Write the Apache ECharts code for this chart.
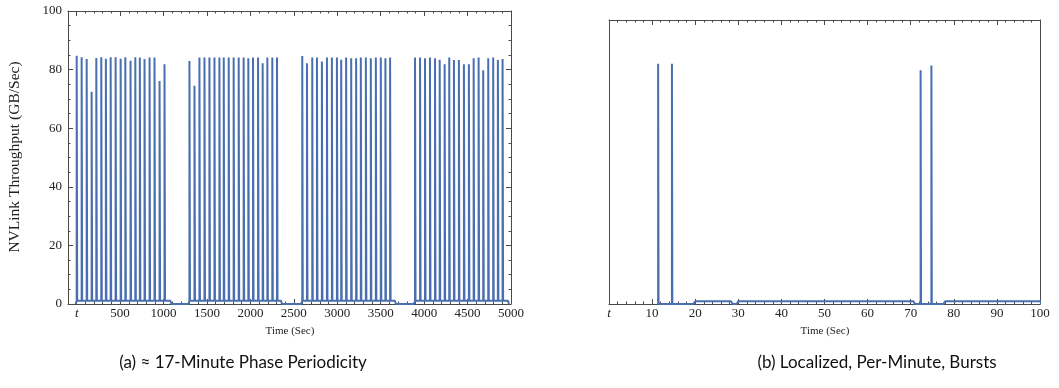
<!DOCTYPE html>
<html>
<head>
<meta charset="utf-8">
<script src="https://cdn.jsdelivr.net/npm/echarts@6/dist/echarts.min.js"></script>
<style>
  html, body { margin: 0; padding: 0; background: #fff; }
  #chart { width: 1059px; height: 388px; }
</style>
</head>
<body>
<div id="chart"></div>
<script>
// ---------- Data: panel (a) ----------
const spikeTimesA = [
  0, 57, 115, 172, 226, 283, 336, 391, 448, 506, 560, 620, 675, 727, 781, 839, 896, 954, 1011,
  1298, 1356, 1413, 1471, 1528, 1586, 1643, 1693, 1750, 1807, 1865, 1922, 1976, 2030, 2088, 2141, 2195, 2252, 2306,
  2597, 2651, 2712, 2766, 2823, 2881, 2938, 2996, 3045, 3102, 3160, 3217, 3271, 3329, 3386, 3444, 3501, 3554, 3608,
  3895, 3953, 4010, 4067, 4125, 4179, 4236, 4289, 4343, 4400, 4458, 4515, 4570, 4627, 4680, 4738, 4795, 4849, 4903
];
const spikeHeightsA = [
  84.7, 84.2, 83.6, 72.4, 84.0, 84.2, 83.7, 84.2, 84.2, 83.7, 84.2, 83.0, 84.2, 84.1, 83.6, 84.1, 84.1, 76.1, 81.8,
  82.9, 74.5, 84.1, 84.1, 84.1, 84.1, 84.1, 84.1, 84.1, 84.1, 84.1, 84.1, 83.9, 84.1, 84.1, 82.2, 84.1, 84.1, 84.1,
  84.6, 82.2, 84.1, 84.1, 82.8, 84.1, 84.1, 84.1, 83.4, 84.1, 83.9, 83.9, 84.1, 84.1, 83.9, 84.1, 84.1, 83.9, 84.1,
  84.1, 84.1, 83.9, 84.1, 83.9, 83.4, 81.8, 84.1, 83.3, 83.3, 81.8, 81.8, 83.9, 84.1, 79.8, 83.9, 84.1, 83.3, 83.6
];
const phaseStartA = [0, 1298, 2597, 3895];
const phaseEndA   = [1078, 2352, 3663, 4965];
const idleLevelA  = 1.1;
const blipTimesA  = [1180, 2489, 3740, 3797];
const blipValuesA = [0.6, 0.5, 0.5, 0.5];
const xMajorA = [0, 500, 1000, 1500, 2000, 2500, 3000, 3500, 4000, 4500, 5000];
const xMinorA = [100, 200, 300, 400, 600, 700, 800, 900, 1100, 1200, 1300, 1400, 1600, 1700, 1800, 1900,
  2100, 2200, 2300, 2400, 2600, 2700, 2800, 2900, 3100, 3200, 3300, 3400, 3600, 3700, 3800, 3900,
  4100, 4200, 4300, 4400, 4600, 4700, 4800, 4900];

// ---------- Data: panel (b) ----------
const spikeTimesB   = [11.4, 14.6, 72.3, 74.8];
const spikeHeightsB = [84.6, 84.6, 82.3, 84.0];
const phaseStartB   = [20, 30, 78];
const phaseEndB     = [28.3, 70.6, 100];
const idleLevelB    = 1.0;
const blipTimesB    = [76.2];
const blipValuesB   = [0.4];

// ---------- Build line data ----------
function buildLine(starts, ends, level, sT, sH, spikeW, tailW, bT, bV, blipW) {
  const pts = [];
  for (let g = 0; g < starts.length; g++) {
    pts.push([starts[g] - tailW, 0]);
    pts.push([starts[g], level]);
    pts.push([ends[g], level]);
    pts.push([ends[g] + tailW, 0]);
  }
  for (let i = 0; i < sT.length; i++) {
    const t = sT[i];
    const inside = starts.some((s, g) => t >= s && t <= ends[g]);
    const b = inside ? level : 0;
    pts.push([t - 0.0001, b], [t, sH[i]], [t + spikeW, sH[i]], [t + spikeW + 0.0001, b]);
  }
  for (let i = 0; i < bT.length; i++) {
    pts.push([bT[i] - blipW, 0], [bT[i], bV[i]], [bT[i] + blipW, 0]);
  }
  pts.sort((a, b) => a[0] - b[0]);
  return pts;
}
const lineA = buildLine(phaseStartA, phaseEndA, idleLevelA, spikeTimesA, spikeHeightsA, 6, 12, blipTimesA, blipValuesA, 4);
const lineB = buildLine(phaseStartB, phaseEndB, idleLevelB, spikeTimesB, spikeHeightsB, 0.1, 0.4, blipTimesB, blipValuesB, 0.15);

// ---------- Styles ----------
const FRAME = '#4a4a4a';
const BLUE = '#4a6fb0';
const SERIF = '"Liberation Serif", "DejaVu Serif", serif';
const labelFmt = v => (v === 0 ? '{i|t}' : String(v));
const rich = { i: { fontStyle: 'italic', fontFamily: SERIF, fontSize: 13, color: '#222' } };

function xAx(grid, min, max, pos, ticks, len, labels, line) {
  return {
    type: 'value', gridIndex: grid, min: min, max: max, position: pos,
    axisLine: { show: line, onZero: false, lineStyle: { color: FRAME, width: 1 } },
    axisTick: { show: true, inside: true, length: len, customValues: ticks, lineStyle: { color: FRAME, width: 1 } },
    axisLabel: labels ? { show: true, customValues: ticks, formatter: labelFmt, rich: rich,
      fontFamily: SERIF, fontSize: 13, color: '#222', margin: 3 } : { show: false },
    splitLine: { show: false }
  };
}

const chart = echarts.init(document.getElementById('chart'), null, { renderer: 'canvas' });
chart.setOption({
  animation: false,
  backgroundColor: '#fff',
  grid: [
    { left: 68, top: 11, width: 443, height: 293 },
    { left: 609, top: 20, width: 431, height: 284 }
  ],
  xAxis: [
    xAx(0, -100, 5000, 'bottom', xMajorA, 5, true, true),
    xAx(0, -100, 5000, 'bottom', xMinorA, 2.5, false, false),
    xAx(0, -100, 5000, 'top', xMajorA, 5, false, true),
    xAx(0, -100, 5000, 'top', xMinorA, 2.5, false, false),
    {
      type: 'value', gridIndex: 1, min: 0, max: 100, interval: 10, position: 'bottom',
      axisLine: { show: true, onZero: false, lineStyle: { color: FRAME, width: 1 } },
      axisTick: { show: true, inside: true, length: 5, lineStyle: { color: FRAME } },
      minorTick: { show: true, splitNumber: 5, length: 2.5, lineStyle: { color: FRAME } },
      axisLabel: { show: true, formatter: labelFmt, rich: rich, fontFamily: SERIF, fontSize: 13, color: '#222', margin: 3 },
      splitLine: { show: false }, minorSplitLine: { show: false }
    },
    {
      type: 'value', gridIndex: 1, min: 0, max: 100, interval: 10, position: 'top',
      axisLine: { show: true, onZero: false, lineStyle: { color: FRAME, width: 1 } },
      axisTick: { show: true, inside: true, length: 5, lineStyle: { color: FRAME } },
      minorTick: { show: true, splitNumber: 5, length: 2.5, lineStyle: { color: FRAME } },
      axisLabel: { show: false },
      splitLine: { show: false }
    }
  ],
  yAxis: [
    {
      type: 'value', gridIndex: 0, min: 0, max: 100, interval: 20, position: 'left',
      axisLine: { show: true, onZero: false, lineStyle: { color: FRAME, width: 1 } },
      axisTick: { show: true, inside: true, length: 5, lineStyle: { color: FRAME } },
      minorTick: { show: true, splitNumber: 4, length: 2.5, lineStyle: { color: FRAME } },
      axisLabel: { show: true, fontFamily: SERIF, fontSize: 13, color: '#222', margin: 6 },
      splitLine: { show: false }
    },
    {
      type: 'value', gridIndex: 0, min: 0, max: 100, interval: 20, position: 'right',
      axisLine: { show: true, onZero: false, lineStyle: { color: FRAME, width: 1 } },
      axisTick: { show: true, inside: true, length: 5, lineStyle: { color: FRAME } },
      minorTick: { show: true, splitNumber: 4, length: 2.5, lineStyle: { color: FRAME } },
      axisLabel: { show: false },
      splitLine: { show: false }
    },
    {
      type: 'value', gridIndex: 1, min: 0, max: 100, position: 'left',
      axisLine: { show: true, onZero: false, lineStyle: { color: FRAME, width: 1 } },
      axisTick: { show: false }, axisLabel: { show: false }, splitLine: { show: false }
    },
    {
      type: 'value', gridIndex: 1, min: 0, max: 100, position: 'right',
      axisLine: { show: true, onZero: false, lineStyle: { color: FRAME, width: 1 } },
      axisTick: { show: false }, axisLabel: { show: false }, splitLine: { show: false }
    }
  ],
  series: [
    {
      type: 'line', xAxisIndex: 0, yAxisIndex: 0, data: lineA, showSymbol: false,
      lineStyle: { color: BLUE, width: 2 }, itemStyle: { color: BLUE }, clip: true, z: 1
    },
    {
      type: 'line', xAxisIndex: 4, yAxisIndex: 2, data: lineB, showSymbol: false,
      lineStyle: { color: BLUE, width: 2 }, itemStyle: { color: BLUE }, clip: true, z: 1
    }
  ],
  graphic: [
    { type: 'text', x: 15, y: 157, rotation: Math.PI / 2,
      style: { text: 'NVLink Throughput (GB/Sec)', font: '15.5px ' + SERIF, fill: '#222', align: 'center', verticalAlign: 'middle' } },
    { type: 'text', x: 290, y: 331,
      style: { text: 'Time (Sec)', font: '11px ' + SERIF, fill: '#222', align: 'center', verticalAlign: 'middle' } },
    { type: 'text', x: 825, y: 331,
      style: { text: 'Time (Sec)', font: '11px ' + SERIF, fill: '#222', align: 'center', verticalAlign: 'middle' } },
    { type: 'text', x: 243, y: 363,
      style: { text: '(a) \u2248 17-Minute Phase Periodicity', font: '17px Lato, "Open Sans", sans-serif', fill: '#111', align: 'center', verticalAlign: 'middle' } },
    { type: 'text', x: 877, y: 363,
      style: { text: '(b) Localized, Per-Minute, Bursts', font: '17px Lato, "Open Sans", sans-serif', fill: '#111', align: 'center', verticalAlign: 'middle' } }
  ]
});
</script>
</body>
</html>
